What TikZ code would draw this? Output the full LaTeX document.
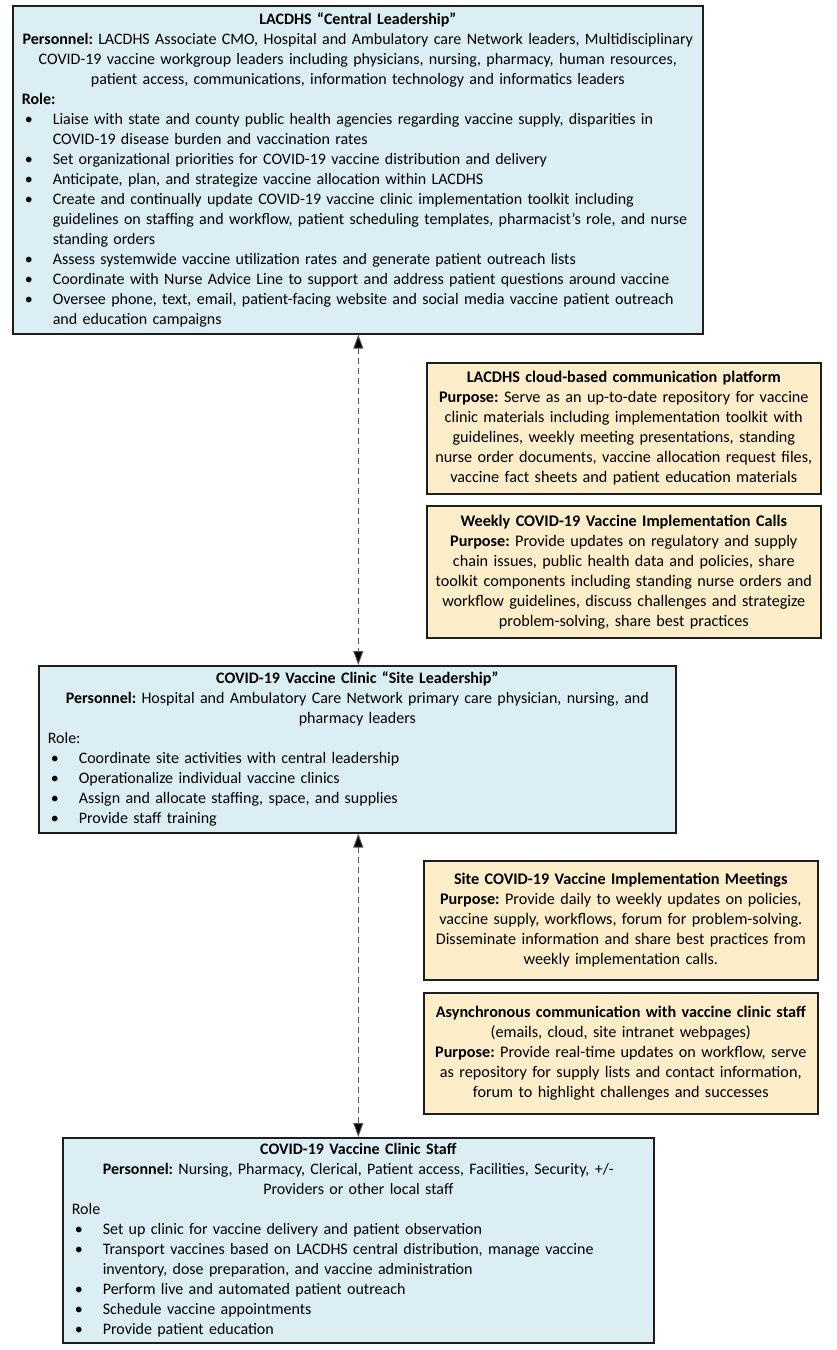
\documentclass[tikz,border=0pt]{standalone}
\usepackage{fontspec}
\setmainfont{Carlito}
\usetikzlibrary{arrows.meta}
\definecolor{boxblue}{RGB}{219,238,243}
\definecolor{boxyellow}{RGB}{253,237,200}
\definecolor{edgecol}{RGB}{30,30,30}
\newcommand\LineC[1]{\noindent\makebox[\linewidth][c]{#1}\par}
\newcommand\LineL[1]{\noindent\makebox[\linewidth][l]{#1}\par}
\newcommand\LineB[1]{\noindent\makebox[\linewidth][l]{\makebox[31pt][l]{\hspace{3pt}\textbullet}#1}\par}
\newcommand\LineK[1]{\noindent\makebox[\linewidth][l]{\hspace{31pt}#1}\par}
\tikzset{
  boxbase/.style={draw=edgecol, line width=1.6pt, anchor=north west, inner xsep=9pt, inner ysep=0pt,
    font=\fontsize{16}{20}\selectfont\frenchspacing},
  bluebox/.style={boxbase, fill=boxblue},
  yellowbox/.style={boxbase, fill=boxyellow, font=\fontsize{16.2}{20}\selectfont\frenchspacing},
  conn/.style={draw=black!65, line width=0.9pt, dash pattern=on 6pt off 4pt,
    {Triangle[length=14pt,width=10pt,fill=black]}-{Triangle[length=14pt,width=10pt,fill=black]}}
}
\begin{document}
\begin{tikzpicture}[x=1pt,y=-1pt]
\useasboundingbox[fill=white] (0,0) rectangle (836,1350);

\node[bluebox, minimum width=690pt, minimum height=328pt, text width=672pt] (b1) at (12,5) {%
\LineC{\textbf{LACDHS “Central Leadership”}}
\LineC{\textbf{Personnel:} LACDHS Associate CMO, Hospital and Ambulatory care Network leaders, Multidisciplinary}
\LineC{COVID-19 vaccine workgroup leaders including physicians, nursing, pharmacy, human resources,}
\LineC{patient access, communications, information technology and informatics leaders}
\LineL{\textbf{Role:}}
\LineB{Liaise with state and county public health agencies regarding vaccine supply, disparities in}
\LineK{COVID-19 disease burden and vaccination rates}
\LineB{Set organizational priorities for COVID-19 vaccine distribution and delivery}
\LineB{Anticipate, plan, and strategize vaccine allocation within LACDHS}
\LineB{Create and continually update COVID-19 vaccine clinic implementation toolkit including}
\LineK{guidelines on staffing and workflow, patient scheduling templates, pharmacist’s role, and nurse}
\LineK{standing orders}
\LineB{Assess systemwide vaccine utilization rates and generate patient outreach lists}
\LineB{Coordinate with Nurse Advice Line to support and address patient questions around vaccine}
\LineB{Oversee phone, text, email, patient-facing website and social media vaccine patient outreach}
\LineK{and education campaigns}};

\node[yellowbox, minimum width=394pt, minimum height=131pt, text width=376pt] (b2) at (426,362) {%
\LineC{\textbf{LACDHS cloud-based communication platform}}
\LineC{\textbf{Purpose:} Serve as an up-to-date repository for vaccine}
\LineC{clinic materials including implementation toolkit with}
\LineC{guidelines, weekly meeting presentations, standing}
\LineC{nurse order documents, vaccine allocation request files,}
\LineC{vaccine fact sheets and patient education materials}};

\node[yellowbox, minimum width=394pt, minimum height=132pt, text width=376pt] (b3) at (426,505) {%
\LineC{\textbf{Weekly COVID-19 Vaccine Implementation Calls}}
\LineC{\textbf{Purpose:} Provide updates on regulatory and supply}
\LineC{chain issues, public health data and policies, share}
\LineC{toolkit components including standing nurse orders and}
\LineC{workflow guidelines, discuss challenges and strategize}
\LineC{problem-solving, share best practices}};

\node[bluebox, minimum width=637pt, minimum height=167pt, text width=619pt] (b4) at (38,665) {%
\LineC{\textbf{COVID-19 Vaccine Clinic “Site Leadership”}}
\LineC{\textbf{Personnel:} Hospital and Ambulatory Care Network primary care physician, nursing, and}
\LineC{pharmacy leaders}
\LineL{Role:}
\LineB{Coordinate site activities with central leadership}
\LineB{Operationalize individual vaccine clinics}
\LineB{Assign and allocate staffing, space, and supplies}
\LineB{Provide staff training}};

\node[yellowbox, minimum width=394pt, minimum height=119pt, text width=376pt] (b5) at (423,860) {%
\LineC{\textbf{Site COVID-19 Vaccine Implementation Meetings}}
\LineC{\textbf{Purpose:} Provide daily to weekly updates on policies,}
\LineC{vaccine supply, workflows, forum for problem-solving.}
\LineC{Disseminate information and share best practices from}
\LineC{weekly implementation calls.}};

\node[yellowbox, minimum width=394pt, minimum height=121pt, text width=376pt] (b6) at (423,992) {%
\LineC{\textbf{Asynchronous communication with vaccine clinic staff}}
\LineC{(emails, cloud, site intranet webpages)}
\LineC{\textbf{Purpose:} Provide real-time updates on workflow, serve}
\LineC{as repository for supply lists and contact information,}
\LineC{forum to highlight challenges and successes}};

\node[bluebox, minimum width=591pt, minimum height=205pt, text width=573pt] (b7) at (62,1137) {%
\LineC{\textbf{COVID-19 Vaccine Clinic Staff}}
\LineC{\textbf{Personnel:} Nursing, Pharmacy, Clerical, Patient access, Facilities, Security, +/-}
\LineC{Providers or other local staff}
\LineL{Role}
\LineB{Set up clinic for vaccine delivery and patient observation}
\LineB{Transport vaccines based on LACDHS central distribution, manage vaccine}
\LineK{inventory, dose preparation, and vaccine administration}
\LineB{Perform live and automated patient outreach}
\LineB{Schedule vaccine appointments}
\LineB{Provide patient education}};

\draw[conn] ([xshift=0.5pt]b1.south) -- ([xshift=0.5pt]b1.south |- b4.north);
\draw[conn] ([xshift=0.5pt]b1.south |- b4.south) -- ([xshift=0.5pt]b1.south |- b7.north);
\end{tikzpicture}
\end{document}
